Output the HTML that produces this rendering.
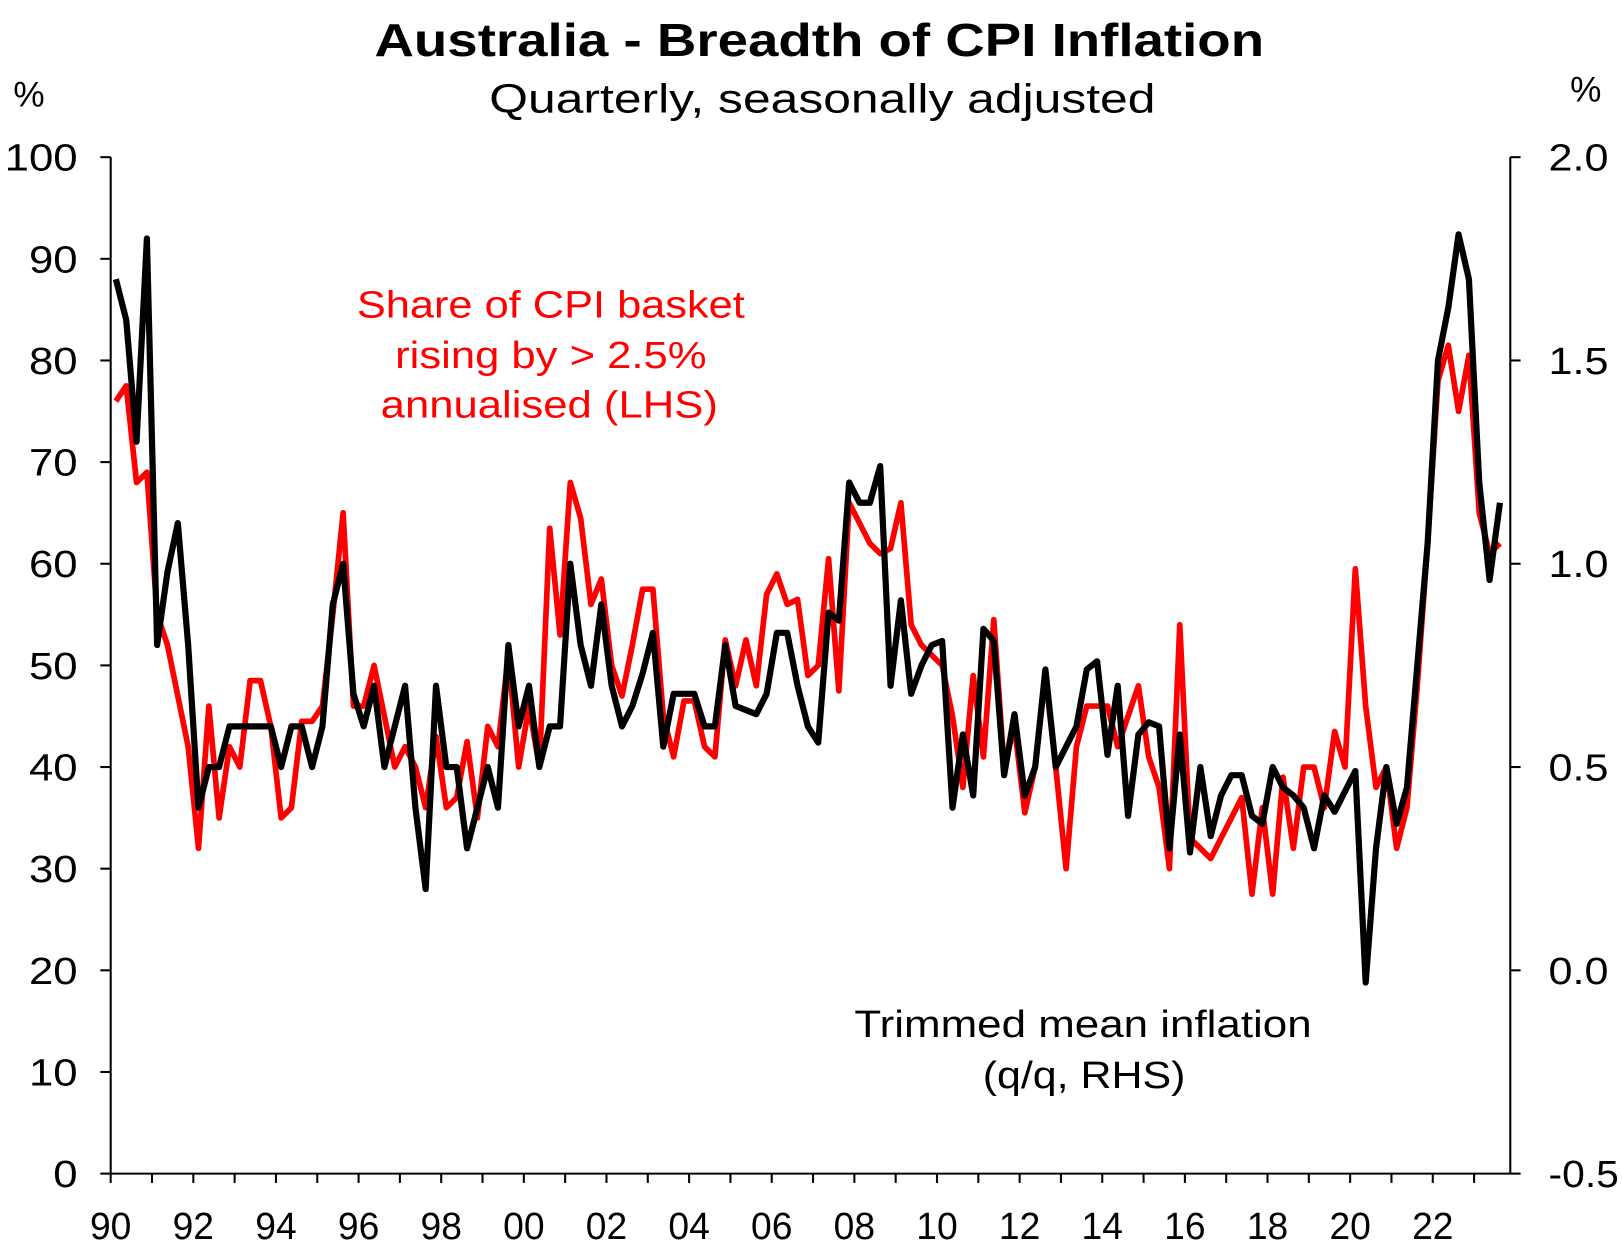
<!DOCTYPE html>
<html><head><meta charset="utf-8"><style>
html,body{margin:0;padding:0;background:#fff;}
svg{display:block;font-family:"Liberation Sans",Arial,sans-serif;}
</style></head><body>
<svg id="chart" width="1622" height="1246" viewBox="0 0 1568 1205" preserveAspectRatio="none" xmlns="http://www.w3.org/2000/svg">
<text x="362" y="54" font-size="45" font-weight="bold" textLength="860" lengthAdjust="spacingAndGlyphs">Australia - Breadth of CPI Inflation</text>
<text x="473" y="109" font-size="39" textLength="644" lengthAdjust="spacingAndGlyphs">Quarterly,  seasonally adjusted</text>
<text x="28" y="103" font-size="34" text-anchor="middle">%</text>
<text x="1533" y="98" font-size="34" text-anchor="middle">%</text>
<g id="axes"></g>
<g id="series"></g>
<text fill="#ff0000" font-size="37" lengthAdjust="spacingAndGlyphs"><tspan x="345" y="307" textLength="375" lengthAdjust="spacingAndGlyphs">Share of CPI basket</tspan><tspan x="382" y="356" textLength="301" lengthAdjust="spacingAndGlyphs">rising by &gt; 2.5%</tspan><tspan x="368" y="404" textLength="326" lengthAdjust="spacingAndGlyphs">annualised  (LHS)</tspan></text>
<text fill="#000" font-size="37"><tspan x="826" y="1003" textLength="442" lengthAdjust="spacingAndGlyphs">Trimmed mean  inflation</tspan><tspan x="950" y="1052" textLength="196" lengthAdjust="spacingAndGlyphs">(q/q, RHS)</tspan></text>
</svg>
<script>
const yearLabels=["90","92","94","96","98","00","02","04","06","08","10","12","14","16","18","20","22"];
const leftTicks=[0,10,20,30,40,50,60,70,80,90,100];
const rightTicks=["-0.5","0.0","0.5","1.0","1.5","2.0"];
const shareValues=[76,77.5,68,69,55,52,47,42,32,46,35,42,40,48.5,48.5,44,35,36,44.5,44.5,46,55,65,46,46,50,45,40,42,40,36,43,36,37,42.5,35,44,42,51,40,46,40,63.5,53,68,64.5,56,58.5,50,47,52,57.5,57.5,45,41,46.5,46.5,42,41,52.5,48,52.5,48,57,59,56,56.5,49,50,60.5,47.5,66,64,62,61,61.5,66,54,52,51,50,45,38,49,41,54.5,40,44,35.5,40,49,40,30,42,46,46,46,42,45,48,41,38,30,54,33,32,31,33,35,37,27.5,36,27.5,39,32,40,40,36,43.5,40,59.5,46,38,40,32,36,48,62,78,81.5,75,80.5,65,61,62];
const trimmedValues=[1.70,1.60,1.30,1.80,0.80,0.98,1.10,0.80,0.40,0.50,0.50,0.60,0.60,0.60,0.60,0.60,0.50,0.60,0.60,0.50,0.60,0.90,1.00,0.68,0.60,0.70,0.50,0.60,0.70,0.40,0.20,0.70,0.50,0.50,0.30,0.40,0.50,0.40,0.80,0.60,0.70,0.50,0.60,0.60,1.00,0.80,0.70,0.90,0.70,0.60,0.65,0.73,0.83,0.55,0.68,0.68,0.68,0.60,0.60,0.80,0.65,0.64,0.63,0.68,0.83,0.83,0.70,0.60,0.56,0.88,0.86,1.20,1.15,1.15,1.24,0.70,0.91,0.68,0.75,0.80,0.81,0.40,0.58,0.43,0.84,0.81,0.48,0.63,0.43,0.50,0.74,0.50,0.55,0.60,0.74,0.76,0.53,0.70,0.38,0.58,0.61,0.60,0.30,0.58,0.29,0.50,0.33,0.43,0.48,0.48,0.38,0.36,0.50,0.45,0.43,0.40,0.30,0.43,0.39,0.44,0.49,-0.03,0.30,0.50,0.36,0.45,0.75,1.05,1.50,1.63,1.81,1.70,1.20,0.96,1.15];

const NS="http://www.w3.org/2000/svg";
const X0=107,X1=1460,Y0=1135,Y100=152;
function yL(v){return Y0-(v/100)*(Y0-Y100);}
function yR(r){return yL(20+r*40);}
function xQ(i){return 112+i*9.985;}
function xYear(y){return X0+(y-1990)*39.94;}
function mk(tag,attrs,parent){const e=document.createElementNS(NS,tag);for(const k in attrs)e.setAttribute(k,attrs[k]);parent.appendChild(e);return e;}
const ax=document.getElementById('axes');
const ls=mk('line',{x1:X0,y1:Y100,x2:X0,y2:Y0,stroke:'#000','stroke-width':2},ax);


const rs=mk('line',{x1:X1,y1:Y100,x2:X1,y2:Y0,stroke:'#000','stroke-width':2},ax);


const bs=mk('line',{x1:X0,y1:Y0,x2:X1,y2:Y0,stroke:'#000','stroke-width':2},ax);


leftTicks.forEach(v=>{
  mk('line',{x1:X0-10,y1:yL(v),x2:X0,y2:yL(v),stroke:'#000','stroke-width':2},ax);
  const s=String(v);
  const w=s.length*23.5;
  const t=mk('text',{x:75-w,y:yL(v)+13,'font-size':37,textLength:w,lengthAdjust:'spacingAndGlyphs'},ax);
  t.textContent=s;
  
  
});
rightTicks.forEach(s=>{
  const r=parseFloat(s);
  mk('line',{x1:X1,y1:yR(r),x2:X1+10,y2:yR(r),stroke:'#000','stroke-width':2},ax);
  const w=s.length===4?68:58;
  const t=mk('text',{x:1497,y:yR(r)+13,'font-size':37,textLength:w,lengthAdjust:'spacingAndGlyphs'},ax);
  t.textContent=s;
  
  
});
for(let y=1990;y<=2023;y++){
  mk('line',{x1:xYear(y),y1:Y0,x2:xYear(y),y2:Y0+9,stroke:'#000','stroke-width':2},ax);
}
yearLabels.forEach((s,k)=>{
  const t=mk('text',{x:xYear(1990+2*k)-20,y:1198,'font-size':37,textLength:40,lengthAdjust:'spacingAndGlyphs'},ax);
  t.textContent=s;
  
  
});
const sg=document.getElementById('series');
const red=mk('polyline',{points:shareValues.map((v,i)=>xQ(i).toFixed(1)+','+yL(v).toFixed(1)).join(' '),fill:'none',stroke:'#ff0000','stroke-width':5.5,'stroke-linejoin':'round'},sg);


const blk=mk('polyline',{points:trimmedValues.map((v,i)=>xQ(i).toFixed(1)+','+yR(v).toFixed(1)).join(' '),fill:'none',stroke:'#000','stroke-width':6,'stroke-linejoin':'round'},sg);


</script>
</body></html>
